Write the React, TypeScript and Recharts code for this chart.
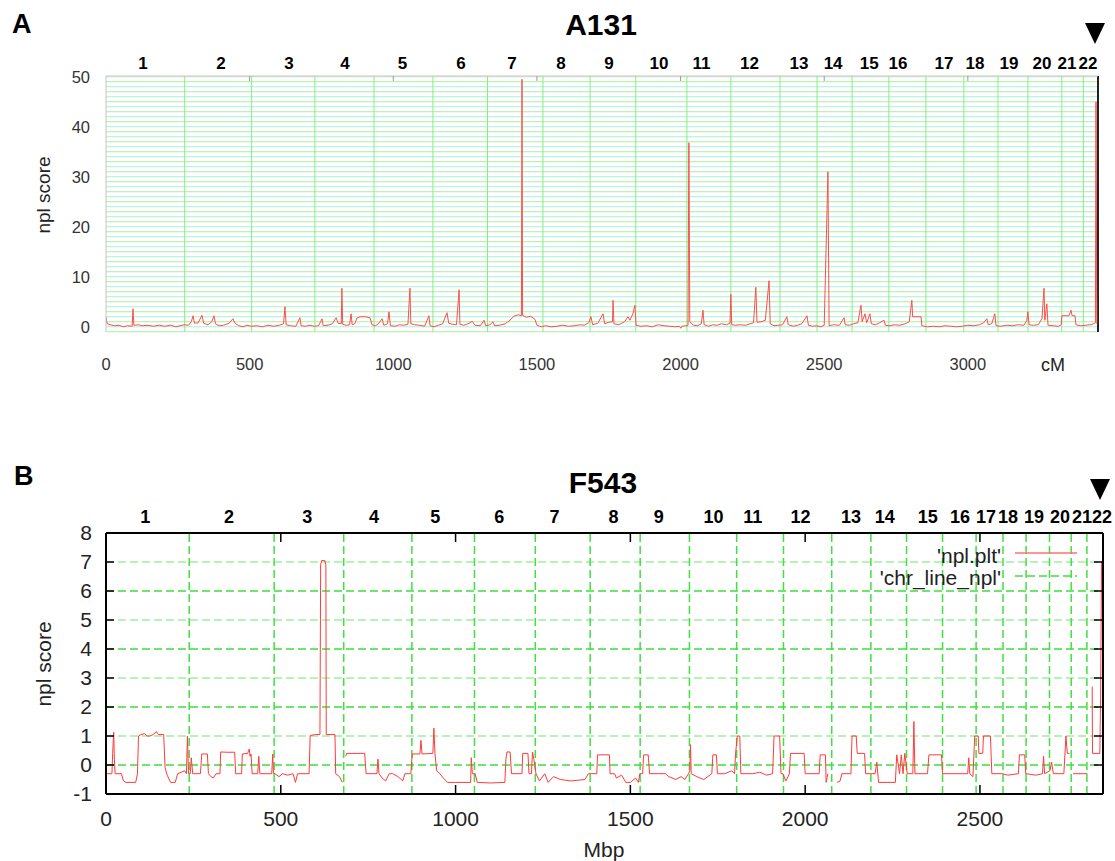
import React from "react";
import { LineChart, Line, XAxis, YAxis, ReferenceLine } from "recharts";

// chromosome names shared by both panels
const chromNames = ["1", "2", "3", "4", "5", "6", "7", "8", "9", "10", "11", "12", "13", "14", "15", "16", "17", "18", "19", "20", "21", "22"];

// ---- panel A (A131, genetic map in cM) ----
const aChromBounds = [274, 507, 727, 933, 1138, 1328, 1521, 1685, 1844, 2022, 2175, 2346, 2475, 2597, 2725, 2854, 2986, 3105, 3209, 3327, 3402];
const aLabelPos = [129, 400, 637, 832, 1032, 1236, 1413, 1584, 1751, 1925, 2073, 2240, 2412, 2531, 2657, 2757, 2917, 3025, 3143, 3258, 3345, 3418];
const aXTicks = [0, 500, 1000, 1500, 2000, 2500, 3000];
const aInnerXTicks = [500, 1000, 1500, 2000, 2500, 3000];
const aYTicks = [0, 10, 20, 30, 40, 50];
const aGridValues = [-1, 0, 1, 2, 3, 4, 5, 6, 7, 8, 9, 10, 11, 12, 13, 14, 15, 16, 17, 18, 19, 20, 21, 22, 23, 24, 25, 26, 27, 28, 29, 30, 31, 32, 33, 34, 35, 36, 37, 38, 39, 40, 41, 42, 43, 44, 45, 46, 47, 48, 49, 50];
const aXMax = 3453;

const aCm = [
  0, 4, 15, 30, 45, 60, 75, 91, 94, 97, 112, 127, 146, 165, 185, 204, 224, 243, 258, 272,
  287, 297, 303, 308, 321, 334, 340, 355, 368, 376, 381, 394, 409, 428, 442, 449, 462, 477, 491, 505,
  525, 545, 564, 584, 603, 618, 623, 627, 642, 661, 675, 679, 695, 710, 725,
  740, 752, 756, 773, 788, 801, 808, 819, 821, 824, 836, 848, 853, 857, 866, 874, 885, 905, 919, 926,
  938, 948, 961, 967, 980, 985, 990, 1007, 1021, 1036, 1051, 1058, 1061, 1075, 1090, 1109, 1124, 1128,
  1142, 1157, 1172, 1187, 1193, 1206, 1220, 1229, 1232, 1245, 1260, 1275, 1284, 1303, 1316, 1322,
  1336, 1347, 1353, 1370, 1390, 1406, 1420, 1435, 1446, 1448, 1450, 1463, 1478, 1493, 1500, 1515,
  1530, 1550, 1570, 1590, 1610, 1630, 1650, 1665, 1680, 1688,
  1694, 1712, 1730, 1736, 1750, 1763, 1765, 1768, 1785, 1805, 1817, 1824, 1834, 1841, 1845,
  1862, 1882, 1902, 1922, 1942, 1962, 1982, 1996, 2001, 2005, 2018,
  2026, 2028, 2029, 2030, 2032, 2045, 2060, 2072, 2078, 2082, 2097, 2112, 2127, 2142, 2160, 2172, 2175, 2178,
  2192, 2207, 2227, 2242, 2254, 2262, 2266, 2280, 2295, 2308, 2312, 2325, 2340,
  2355, 2370, 2375, 2392, 2407, 2422, 2440, 2445, 2460, 2473,
  2488, 2500, 2513, 2517, 2533, 2553, 2569, 2573, 2588,
  2603, 2617, 2628, 2632, 2642, 2648, 2659, 2664, 2678, 2693, 2708, 2713,
  2728, 2743, 2763, 2782, 2796, 2805, 2808, 2837, 2840,
  2860, 2880, 2900, 2920, 2940, 2960, 2980,
  3000, 3020, 3040, 3055, 3066, 3071, 3083, 3094, 3098,
  3115, 3135, 3155, 3175, 3195, 3205, 3209, 3213,
  3228, 3245, 3258, 3265, 3268, 3275, 3279, 3298, 3315,
  3325, 3327, 3352, 3359, 3363, 3373, 3376, 3393,
  3410, 3425, 3438, 3444, 3446, 3449,
];
const aNpl = [
  2.0, 0.6, 0.4, 0.2, 0.3, 0.0, 0.2, 0.1, 3.6, 0.3, 0.4, 0.2, 0.3, 0.1, 0.3, 0.1, 0.3, 0.0, 0.2, 0.4,
  0.3, 1.0, 2.2, 0.7, 0.8, 2.3, 0.7, 0.4, 1.0, 2.2, 0.6, 0.2, 0.3, 0.7, 1.6, 0.7, 0.2, 0.0, 0.3, 0.1,
  0.2, 0.0, 0.3, 0.1, 0.3, 0.6, 4.0, 0.4, 0.2, 0.1, 1.8, 0.2, 0.1, 0.3, 0.1,
  0.2, 1.6, 0.2, 0.3, 0.6, 1.8, 0.7, 0.6, 7.7, 0.5, 0.3, 0.4, 2.6, 0.4, 0.6, 1.8, 2.0, 2.0, 1.8, 0.4,
  0.2, 0.6, 1.6, 0.3, 0.6, 3.0, 0.2, 0.1, 0.4, 0.3, 0.5, 7.7, 0.6, 0.4, 0.3, 0.1, 2.2, 0.2,
  0.0, 0.3, 0.6, 2.8, 0.7, 0.5, 0.4, 7.4, 0.5, 0.3, 0.6, 1.1, 0.3, 0.2, 1.3, 0.2,
  0.4, 1.0, 0.2, 0.3, 0.6, 1.3, 2.1, 2.4, 2.2, 49.5, 2.3, 1.9, 2.1, 1.5, 0.3, 0.0,
  0.2, 0.0, 0.1, 0.3, 0.1, 0.2, 0.4, 0.3, 0.8, 2.0,
  0.4, 0.7, 2.6, 0.6, 0.9, 1.0, 5.3, 0.6, 0.4, 1.0, 2.0, 1.3, 2.6, 4.3, 0.3,
  0.1, 0.2, 0.0, 0.4, 0.2, 0.1, 0.0, 0.1, -0.3, 0.1, 0.2,
  0.3, 27, 36.8, 27, 1.0, 0.3, 0.2, 0.6, 3.3, 0.4, 0.1, 0.4, 0.3, 0.6, 0.4, 0.7, 6.5, 0.4,
  0.3, 0.4, 0.3, 0.6, 0.8, 7.9, 0.9, 1.0, 1.3, 9.2, 0.6, 0.2, 0.3,
  0.4, 2.0, 0.4, 0.1, 0.3, 0.6, 2.2, 0.3, 0.1, 0.2,
  0.0, 0.3, 31, 0.2, 0.4, 0.3, 1.8, 0.4, 0.3,
  0.6, 0.8, 4.3, 1.0, 2.6, 0.8, 2.6, 0.6, 0.4, 0.8, 1.3, 0.3,
  0.2, 0.4, 0.3, 0.6, 1.0, 5.3, 2.0, 2.0, 0.2,
  0.0, 0.1, 0.0, 0.2, 0.1, 0.0, 0.1,
  0.3, 0.2, 0.4, 0.8, 1.6, 0.4, 0.6, 2.6, 0.2,
  0.1, 0.3, 0.2, 0.4, 0.3, 1.2, 3.0, 0.4,
  0.3, 0.4, 1.6, 7.7, 1.3, 4.6, 0.3, 0.2, 0.1,
  0.4, 2.2, 2.2, 3.3, 2.2, 2.2, 0.4, 0.2,
  0.3, 0.4, 0.6, 0.8, 45, 0.6,
];

// ---- panel B (F543, physical map in Mbp) ----
const bChromBounds = [238, 481, 680, 875, 1054, 1228, 1385, 1528, 1669, 1804, 1938, 2076, 2188, 2290, 2393, 2489, 2566, 2632, 2699, 2761, 2806];
const bLabelPos = [112, 352, 576, 767, 942, 1125, 1283, 1452, 1581, 1738, 1850, 1987, 2131, 2228, 2351, 2443, 2517, 2580, 2655, 2729, 2792, 2849];
const bXTicks = [0, 500, 1000, 1500, 2000, 2500];
const bInnerXTicks = [500, 1000, 1500, 2000, 2500];
const bYTicks = [-1, 0, 1, 2, 3, 4, 5, 6, 7, 8];
const bInnerYTicks = [0, 1, 2, 3, 4, 5, 6, 7];
const bGridValues = [0, 1, 2, 3, 4, 5, 6, 7, 8];
const bXMax = 2852;
const bYMax = 8;

const bMbp = [
  0, 17, 19, 22, 24, 26, 44, 50, 57, 85, 90, 93, 100, 110, 118, 125, 135, 144, 150, 165, 169, 175, 185, 198, 205, 215, 225, 230, 233, 236,
  241, 244, 248, 270, 274, 290, 293, 300, 307, 315, 326, 328, 345, 368, 371, 388, 390, 405, 410, 412, 415, 418, 434, 437, 440, 474, 477, 479,
  483, 495, 505, 520, 535, 542, 548, 575, 581, 584, 600, 612, 614, 617, 626, 629, 630, 655, 657, 668, 676, 680,
  686, 688, 740, 744, 775, 778, 781, 790, 800, 810, 820, 835, 849, 855, 872,
  876, 898, 901, 904, 935, 938, 941, 946, 955, 965, 977, 1000, 1043, 1045, 1048,
  1056, 1062, 1100, 1141, 1144, 1147, 1156, 1160, 1190, 1192, 1207, 1210, 1217, 1220, 1224,
  1230, 1240, 1255, 1265, 1280, 1300, 1330, 1370, 1380,
  1387, 1404, 1406, 1440, 1442, 1455, 1460, 1475, 1487, 1500, 1515, 1523, 1527,
  1535, 1538, 1551, 1555, 1580, 1600, 1610, 1630, 1645, 1656, 1666,
  1670, 1672, 1674, 1690, 1710, 1733, 1736, 1746, 1749, 1770, 1790, 1798, 1801,
  1806, 1813, 1816, 1850, 1870, 1890, 1907, 1911, 1927, 1931, 1936,
  1945, 1955, 1958, 1997, 2000, 2040, 2043, 2058, 2060, 2065, 2075,
  2091, 2100, 2105, 2131, 2134, 2146, 2149, 2170, 2173, 2186,
  2200, 2205, 2210, 2258, 2262, 2270, 2275, 2280, 2285,
  2292, 2308, 2311, 2314, 2350, 2354, 2390, 2393,
  2420, 2465, 2468, 2471, 2480, 2485,
  2495, 2497, 2508, 2510, 2530, 2534, 2563,
  2580, 2610, 2613, 2628, 2631,
  2660, 2679, 2682, 2685, 2700, 2705, 2710, 2740,
  2746, 2750, 2756, 2760,
  2766, 2807, 2815,
  2821, 2822, 2843, 2845, 2848, 2852,
];
const bNpl = [
  -0.3, -0.3, 0.4, 1.13, 0.2, -0.3, -0.3, -0.55, -0.6, -0.6, -0.3, 1.0, 1.05, 1.08, 1.0, 1.0, 1.05, 1.15, 1.05, 1.05, -0.1, -0.35, -0.6, -0.6, -0.3, -0.25, -0.2, -0.3, 1.0, -0.3,
  -0.3, 0.25, -0.3, -0.3, 0.38, 0.38, -0.3, -0.4, -0.45, -0.3, -0.3, 0.45, 0.44, 0.44, -0.3, -0.3, 0.38, 0.4, 0.55, 0.3, 0.38, -0.3, -0.3, 0.3, -0.3, -0.3, 0.38, -0.3,
  -0.3, -0.4, -0.3, -0.35, -0.3, -0.6, -0.3, -0.3, -0.3, 1.02, 1.05, 1.05, 6.9, 7.05, 7.05, 6.9, 1.05, 1.05, -0.3, -0.4, -0.6, null,
  0.3, 0.4, 0.4, -0.3, -0.3, 0.2, -0.3, -0.45, -0.55, -0.3, -0.3, -0.4, -0.55, -0.3, -0.3,
  0.38, 0.38, 0.85, 0.38, 0.4, 1.27, 0.4, -0.2, -0.3, -0.45, -0.6, -0.6, -0.6, 0.25, -0.3,
  -0.3, -0.6, -0.62, -0.6, 0.2, 0.45, 0.45, -0.3, -0.3, 0.4, 0.4, -0.3, -0.3, 0.45, 0.2,
  -0.3, -0.55, -0.3, -0.6, -0.4, -0.5, -0.55, -0.5, -0.3,
  -0.3, -0.3, 0.35, 0.35, -0.3, -0.3, -0.45, -0.35, -0.6, -0.6, -0.45, -0.6, -0.3,
  -0.3, 0.35, 0.35, -0.3, -0.3, -0.3, -0.4, -0.5, -0.4, -0.5, -0.3,
  -0.2, 0.7, -0.3, -0.4, -0.5, -0.3, 0.35, 0.35, -0.3, -0.3, -0.2, -0.3, 0.4,
  1.0, 1.0, -0.3, -0.3, -0.25, -0.35, -0.3, 1.0, 1.0, -0.3, -0.3,
  -0.55, -0.3, 0.4, 0.4, -0.3, -0.3, 0.35, 0.35, -0.6, -0.3, null,
  -0.6, -0.55, -0.3, -0.3, 1.0, 1.0, 0.4, 0.4, -0.3, -0.3,
  -0.3, 0.1, -0.6, -0.6, 0.35, -0.3, 0.35, -0.3, 0.4,
  -0.3, -0.3, 1.5, -0.3, -0.3, 0.35, 0.35, -0.3,
  -0.3, -0.3, 0.25, -0.3, -0.4, 1.0,
  1.0, 0.4, 0.4, 1.0, 1.0, -0.3, -0.3,
  -0.35, -0.3, 0.35, 0.35, -0.3,
  -0.35, -0.3, 0.3, -0.3, -0.2, 0.1, -0.3, -0.3,
  1.0, 0.4, 0.4, null,
  -0.3, -0.3, null,
  2.7, 0.4, 0.4, 2.3, 7.0, 7.0,
];

const dataA = aCm.map((x, i) => ({ x, y: aNpl[i] }));
const dataB = bMbp.map((x, i) => ({ x, y: bNpl[i] }));

const FONT = '"Liberation Sans", Arial, Helvetica, sans-serif';

// tick-only axes: keep the tick line, draw no label
const noLabel = () => <g />;

function PanelA() {
  return (
    <LineChart width={1115} height={400} data={dataA} margin={{ top: 75, right: 17, bottom: 28, left: 46 }}>
      <XAxis
        xAxisId="a"
        dataKey="x"
        type="number"
        domain={[0, aXMax]}
        allowDataOverflow
        ticks={aXTicks}
        interval={0}
        tickSize={0}
        tickMargin={26}
        tickLine={false}
        axisLine={false}
        height={40}
        tick={{ fontSize: 16.5, fill: "#333" }}
      />
      <XAxis
        xAxisId="aTop"
        dataKey="x"
        type="number"
        orientation="top"
        domain={[0, aXMax]}
        allowDataOverflow
        ticks={aInnerXTicks}
        interval={0}
        tick={noLabel}
        tickSize={-5}
        tickLine={{ stroke: "#999" }}
        axisLine={{ stroke: "#cfc6b6" }}
        height={1}
      />
      <YAxis
        yAxisId="a"
        type="number"
        domain={[-1.05, 50.15]}
        allowDataOverflow
        ticks={aYTicks}
        interval={0}
        tickSize={0}
        tickMargin={16}
        tickLine={false}
        axisLine={{ stroke: "#c4c4c4" }}
        width={60}
        tick={{ fontSize: 16.5, fill: "#333" }}
      />
      {aGridValues.map((v, i) => (
        <ReferenceLine key={`ah${v}`} xAxisId="a" yAxisId="a" y={v} stroke={i % 2 === 0 ? "#abeea0" : "#a8eedc"} strokeWidth={1} />
      ))}
      {aChromBounds.map((b) => (
        <ReferenceLine key={`av${b}`} xAxisId="a" yAxisId="a" x={b} stroke="#86ee86" strokeWidth={1} />
      ))}
      {aLabelPos.map((p, i) => (
        <ReferenceLine
          key={`al${p}`}
          xAxisId="a"
          yAxisId="a"
          x={p}
          stroke="none"
          label={{ value: chromNames[i], position: "top", offset: 7, fontSize: 17, fontWeight: "bold", fill: "#000" }}
        />
      ))}
      <ReferenceLine xAxisId="a" yAxisId="a" x={aXMax} stroke="#222" strokeWidth={2} />
      <Line xAxisId="aTop" yAxisId="a" dataKey="y" stroke="none" dot={false} activeDot={false} isAnimationActive={false} />
      <Line
        xAxisId="a"
        yAxisId="a"
        type="linear"
        dataKey="y"
        stroke="#ff4d4d"
        strokeWidth={1}
        dot={false}
        isAnimationActive={false}
      />
    </LineChart>
  );
}

function PanelB() {
  return (
    <LineChart width={1115} height={421} data={dataB} margin={{ top: 92, right: 11, bottom: 27, left: 46 }}>
      <XAxis
        xAxisId="b"
        dataKey="x"
        type="number"
        domain={[0, bXMax]}
        allowDataOverflow
        ticks={bXTicks}
        interval={0}
        tickSize={-9}
        tickMargin={26}
        tickLine={{ stroke: "#000", strokeWidth: 1.5 }}
        axisLine={{ stroke: "#000", strokeWidth: 2 }}
        height={40}
        tick={{ fontSize: 21, fill: "#222" }}
      />
      <XAxis
        xAxisId="bTop"
        dataKey="x"
        type="number"
        orientation="top"
        domain={[0, bXMax]}
        allowDataOverflow
        ticks={bInnerXTicks}
        interval={0}
        tick={noLabel}
        tickSize={-9}
        tickLine={{ stroke: "#000", strokeWidth: 1.5 }}
        axisLine={{ stroke: "#000", strokeWidth: 2 }}
        height={1}
      />
      <YAxis
        yAxisId="b"
        type="number"
        domain={[-1, bYMax]}
        allowDataOverflow
        ticks={bYTicks}
        interval={0}
        tickSize={-8}
        tickMargin={22}
        tickLine={{ stroke: "#000", strokeWidth: 1.5 }}
        axisLine={{ stroke: "#000", strokeWidth: 2 }}
        width={60}
        tick={{ fontSize: 21, fill: "#222" }}
      />
      <YAxis
        yAxisId="bRight"
        type="number"
        orientation="right"
        domain={[-1, bYMax]}
        allowDataOverflow
        ticks={bInnerYTicks}
        interval={0}
        tick={noLabel}
        tickSize={-9}
        tickLine={{ stroke: "#000", strokeWidth: 1.5 }}
        axisLine={{ stroke: "#000", strokeWidth: 2 }}
        width={1}
      />
      {bGridValues.map((v) => (
        <ReferenceLine
          key={`bh${v}`}
          xAxisId="b"
          yAxisId="b"
          y={v}
          stroke={v % 2 === 0 ? "#3ce03c" : "#9ff09f"}
          strokeWidth={1.5}
          strokeDasharray="8 4"
        />
      ))}
      {bChromBounds.map((b) => (
        <ReferenceLine key={`bv${b}`} xAxisId="b" yAxisId="b" x={b} stroke="#40e040" strokeWidth={1.5} strokeDasharray="8 4" />
      ))}
      {bLabelPos.map((p, i) => (
        <ReferenceLine
          key={`bl${p}`}
          xAxisId="b"
          yAxisId="b"
          x={p}
          stroke="none"
          label={{ value: chromNames[i], position: "top", offset: 10, fontSize: 18, fontWeight: "bold", fill: "#000" }}
        />
      ))}
      <Line xAxisId="bTop" yAxisId="b" dataKey="y" stroke="none" dot={false} activeDot={false} isAnimationActive={false} />
      <Line xAxisId="b" yAxisId="bRight" dataKey="y" stroke="none" dot={false} activeDot={false} isAnimationActive={false} />
      <Line
        xAxisId="b"
        yAxisId="b"
        type="linear"
        dataKey="y"
        stroke="#ff3b3b"
        strokeWidth={1}
        dot={false}
        connectNulls={false}
        isAnimationActive={false}
      />
    </LineChart>
  );
}

export default function App() {
  return (
    <div style={{ position: "absolute", left: 0, top: 0, width: 1115, height: 861, background: "#fff", fontFamily: FONT }}>
      <div style={{ position: "absolute", left: 0, top: 0 }}>
        <PanelA />
      </div>
      <div style={{ position: "absolute", left: 0, top: 440 }}>
        <PanelB />
      </div>
      <svg width={1115} height={861} style={{ position: "absolute", left: 0, top: 0, pointerEvents: "none" }} fontFamily={FONT}>
        <text x={12} y={33} fontSize={27} fontWeight="bold">A</text>
        <text x={601} y={35} fontSize={30} fontWeight="bold" textAnchor="middle">A131</text>
        <polygon points="1085,23 1105,23 1095,44" fill="#000" />
        <text x={1053} y={371} fontSize={18} fill="#222" textAnchor="middle">cM</text>
        <text x={43} y={195} fontSize={19} fill="#222" textAnchor="middle" dominantBaseline="central" transform="rotate(-90 43 195)">npl score</text>

        <text x={14} y={485} fontSize={27} fontWeight="bold">B</text>
        <text x={603} y={493} fontSize={30} fontWeight="bold" textAnchor="middle">F543</text>
        <polygon points="1090,479 1110,479 1100,500" fill="#000" />
        <text x={604} y={857} fontSize={21} fill="#222" textAnchor="middle">Mbp</text>
        <text x={43} y={664} fontSize={21} fill="#222" textAnchor="middle" dominantBaseline="central" transform="rotate(-90 43 664)">npl score</text>

        <text x={1001} y={563} fontSize={21} fill="#222" textAnchor="end">'npl.plt'</text>
        <line x1={1015} x2={1077} y1={553} y2={553} stroke="#ff7070" strokeWidth={1.5} />
        <text x={1001} y={585} fontSize={21} fill="#222" textAnchor="end">'chr_line_npl'</text>
        <line x1={1015} x2={1077} y1={576} y2={576} stroke="#40e040" strokeWidth={1.5} strokeDasharray="8 4" />
      </svg>
    </div>
  );
}
